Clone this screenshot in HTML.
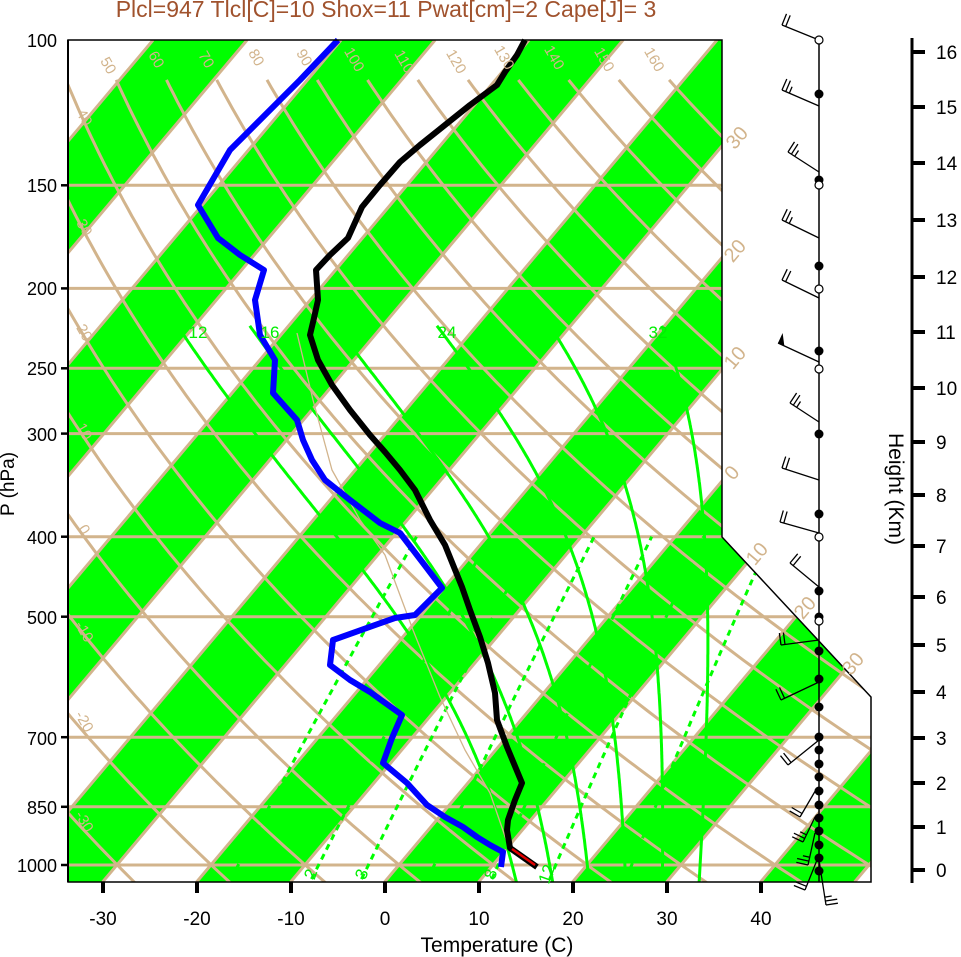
<!DOCTYPE html>
<html><head><meta charset="utf-8"><style>
html,body{margin:0;padding:0;background:#fff;}
svg{display:block;font-family:"Liberation Sans",sans-serif;}
</style></head><body>
<svg id="s" width="961" height="957" viewBox="0 0 961 957" xmlns="http://www.w3.org/2000/svg">
<defs><clipPath id="cp"><polygon points="68,40 722,40 722,537 871,697 871,882 68,882"/></clipPath></defs>
<g id="bg" clip-path="url(#cp)"></g>
<g id="fg"></g>
<text x="386" y="17" text-anchor="middle" font-size="23" fill="#a0522d">Plcl=947 Tlcl[C]=10 Shox=11 Pwat[cm]=2 Cape[J]= 3</text>
<g font-size="18" text-anchor="end" fill="#000">
<text x="57" y="47">100</text><text x="57" y="192">150</text><text x="57" y="295">200</text><text x="57" y="375">250</text><text x="57" y="441">300</text><text x="57" y="544">400</text><text x="57" y="624">500</text><text x="57" y="745">700</text><text x="57" y="814">850</text><text x="57" y="872">1000</text>
</g>
<text transform="translate(14,484) rotate(-90)" text-anchor="middle" font-size="19">P (hPa)</text>
<g font-size="19" text-anchor="middle">
<text x="103" y="925">-30</text><text x="197" y="925">-20</text><text x="291" y="925">-10</text><text x="385" y="925">0</text><text x="479" y="925">10</text><text x="573" y="925">20</text><text x="667" y="925">30</text><text x="761" y="925">40</text>
</g>
<text x="497" y="952" text-anchor="middle" font-size="21">Temperature (C)</text>
<g font-size="19">
<text x="936" y="59">16</text><text x="936" y="114">15</text><text x="936" y="170">14</text><text x="936" y="227">13</text><text x="936" y="284">12</text><text x="936" y="339">11</text><text x="936" y="395">10</text><text x="936" y="449">9</text><text x="936" y="502">8</text><text x="936" y="553">7</text><text x="936" y="604">6</text><text x="936" y="652">5</text><text x="936" y="699">4</text><text x="936" y="745">3</text><text x="936" y="790">2</text><text x="936" y="834">1</text><text x="936" y="877">0</text>
</g>
<text transform="translate(889,489) rotate(90)" text-anchor="middle" font-size="21">Height (Km)</text>
<g fill="#d2b48c" font-size="15" text-anchor="middle">
<text transform="translate(104,68) rotate(60)">50</text><text transform="translate(152,62) rotate(60)">60</text><text transform="translate(202,62) rotate(60)">70</text><text transform="translate(252,60) rotate(60)">80</text><text transform="translate(300,60) rotate(60)">90</text><text transform="translate(350,62) rotate(60)">100</text><text transform="translate(400,64) rotate(60)">110</text><text transform="translate(452,64) rotate(60)">120</text><text transform="translate(500,60) rotate(60)">130</text><text transform="translate(550,60) rotate(60)">140</text><text transform="translate(600,62) rotate(60)">150</text><text transform="translate(650,62) rotate(60)">160</text>
<text transform="translate(80,120) rotate(60)">40</text><text transform="translate(80,230) rotate(60)">30</text><text transform="translate(80,335) rotate(60)">20</text><text transform="translate(80,434) rotate(60)">10</text><text transform="translate(80,532) rotate(60)">0</text><text transform="translate(80,634) rotate(60)">-10</text><text transform="translate(80,724) rotate(60)">-20</text><text transform="translate(80,824) rotate(60)">-30</text>
</g>
<g fill="#d2b48c" font-size="20" text-anchor="middle">
<text transform="translate(742,142) rotate(-50)">30</text><text transform="translate(740,255) rotate(-50)">20</text><text transform="translate(740,362) rotate(-50)">10</text><text transform="translate(737,477) rotate(-50)">0</text><text transform="translate(762,558) rotate(-50)">10</text><text transform="translate(810,612) rotate(-50)">20</text><text transform="translate(858,668) rotate(-50)">30</text>
</g>
<g fill="#00ee00" font-size="17" text-anchor="middle">
<text x="198" y="338">12</text><text x="270" y="338">16</text><text x="447" y="338">24</text><text x="658" y="338">32</text>
<text transform="translate(316,876) rotate(-70)">2</text><text transform="translate(367,876) rotate(-70)">3</text><text transform="translate(496,876) rotate(-70)">8</text><text transform="translate(552,876) rotate(-70)">12</text>
</g>
</svg>
<script>
(function(){
var NS="http://www.w3.org/2000/svg";
var bg=document.getElementById("bg"),fg=document.getElementById("fg");
function Y(p){return 40+358.3*Math.log(p/100);}
function X(T,p){return 385+9.4*T+(882-Y(p))*0.841;}
function el(par,tag,a){var e=document.createElementNS(NS,tag);for(var k in a)e.setAttribute(k,a[k]);par.appendChild(e);return e;}
function pl(par,pts,st,w,extra){var d=pts.map(function(q,i){return (i?"L":"M")+q[0].toFixed(1)+","+q[1].toFixed(1);}).join("");var a={d:d,fill:"none",stroke:st,"stroke-width":w,"stroke-linejoin":"round"};if(extra)for(var k in extra)a[k]=extra[k];return el(par,"path",a);}
var TAN="#d2b48c",GR="#00ff00";
for(var T0=-160;T0<=60;T0+=20){
 el(bg,"polygon",{points:[X(T0,1050),882,X(T0+10,1050),882,X(T0+10,100),40,X(T0,100),40].join(" "),fill:GR});
}
[150,200,250,300,400,500,700,850,1000].forEach(function(p){pl(bg,[[60,Y(p)],[880,Y(p)]],TAN,3);});
for(var T=-130;T<=60;T+=10){pl(bg,[[X(T,1050),882],[X(T,100),40]],TAN,3);}
for(var th=-30;th<=160;th+=10){var pts=[];for(var lp=Math.log(1050);lp>=Math.log(110)-1e-9;lp-=0.02){var p=Math.exp(lp);var t=(th+273.15)*Math.pow(p/1000,0.2857)-273.15;pts.push([X(t,p),Y(p)]);}pl(bg,pts,TAN,3);}
function es(t){return 6.112*Math.exp(17.67*t/(t+243.5));}
function g(Tk,p){var e=es(Tk-273.15);var rs=0.622*e/(p-e);return (287*Tk+2.5e6*rs)/(1005+2.5e6*2.5e6*rs*0.622/(287*Tk*Tk));}
[12,16,20,24,28,32].forEach(function(tw){
 var up=[],Tk=tw+273.15,lp=Math.log(1000),h=0.005;
 while(Math.exp(lp)>222){var p=Math.exp(lp);up.push([X(Tk-273.15,p),Y(p)]);Tk-=g(Tk,p)*h;lp-=h;}
 var dn=[];Tk=tw+273.15;lp=Math.log(1000);
 while(Math.exp(lp)<1050){lp+=h;Tk+=g(Tk,Math.exp(lp))*h;var p2=Math.exp(lp);dn.push([X(Tk-273.15,p2),Y(p2)]);}
 pl(bg,dn.reverse().concat(up),GR,3);
});
function tmr(w,p){var e=w*p/(622+w);var l=Math.log(e/6.112);return 243.5*l/(17.67-l);}
[1,2,3,5,8,12,20].forEach(function(w){var pts=[];for(var p=1040;p>=400;p-=10)pts.push([X(tmr(w,p),p),Y(p)]);pl(bg,pts,GR,3,{"stroke-dasharray":"6,5"});});
pl(bg,[[297,333],[313,400],[332,470],[360,520],[385,555],[413,630],[440,697],[465,750],[490,793],[508,845]],TAN,1.3);
pl(fg,[[338,40],[300,80],[260,120],[230,150],[198,205],[218,238],[240,255],[264,270],[255,300],[260,335],[275,360],[273,393],[297,420],[303,440],[312,460],[325,480],[350,500],[380,523],[400,533],[423,563],[442,588],[415,615],[395,618],[333,640],[330,665],[350,680],[370,692],[402,715],[392,738],[383,763],[407,783],[427,805],[445,817],[463,827],[477,837],[490,845],[503,852],[501,867]],"#0000ff",6);
pl(fg,[[525,40],[517,55],[505,72],[497,85],[470,105],[445,125],[420,145],[400,162],[380,185],[362,207],[348,238],[330,255],[316,270],[318,300],[314,318],[310,335],[318,360],[332,385],[350,410],[370,435],[385,452],[400,470],[415,490],[430,520],[445,545],[462,587],[470,610],[480,637],[488,663],[495,693],[497,720],[507,747],[522,783],[515,800],[508,820],[507,830],[510,848],[537,867]],"#000",6);
pl(fg,[[512,849],[535,865]],"#e00000",2.5);
el(fg,"polygon",{points:"68,40 722,40 722,537 871,697 871,882 68,882",fill:"none",stroke:"#000","stroke-width":1.5});
pl(fg,[[68,40],[68,882]],"#000",2);
[150,200,250,300,400,500,700,850,1000].forEach(function(p){pl(fg,[[61,Y(p)],[68,Y(p)]],"#000",2.5);});
[103,197,291,385,479,573,667,761].forEach(function(x){pl(fg,[[x,882],[x,893]],"#000",4);});
pl(fg,[[912,38],[912,883]],"#000",3);
[52,107,163,220,277,332,388,442,495,546,597,645,692,738,783,827,870].forEach(function(y){pl(fg,[[912,y],[925,y]],"#000",4);});
pl(fg,[[819,40],[819,882]],"#000",1.5);
function barb(bx,by,ex,ey,n,flag){pl(fg,[[bx,by],[ex,ey]],"#000",1.3);var dx=ex-bx,dy=ey-by,L=Math.hypot(dx,dy);dx/=L;dy/=L;var px=-dy,py=dx;if(py>0){px=-px;py=-py;}
 if(flag){el(fg,"polygon",{points:[ex,ey,ex+px*11,ey+py*11,ex-dx*7,ey-dy*7].join(" "),fill:"#000"});return;}
 for(var i=0;i<n;i++){var sx=ex-dx*i*4,sy=ey-dy*i*4;var len=(i==n-1&&n>2)?7:12;pl(fg,[[sx,sy],[sx+px*len,sy+py*len]],"#000",1.3);}}
barb(819,40,782,25,2);barb(819,106,782,90,3);barb(819,172,788,152,3);barb(819,238,782,220,3);barb(819,298,782,280,2);
barb(819,362,778,343,0,true);barb(819,422,790,403,3);barb(819,480,782,468,2);barb(819,533,780,522,2);barb(819,587,790,563,2);
barb(819,640,781,645,2);barb(819,682,781,700,2);barb(819,740,788,765,2);barb(817,788,800,817,2);barb(815,817,803,842,3);barb(815,833,808,865,3);barb(817,860,805,890,2);barb(819,860,826,905,3);
[94,180,266,351,434,514,591,617,651,679,707,737,750,764,777,791,805,818,831,845,858,871].forEach(function(y){el(fg,"circle",{cx:819,cy:y,r:4.5,fill:"#000"});});
[40,185,289,369,537,621].forEach(function(y){el(fg,"circle",{cx:819,cy:y,r:4,fill:"#fff",stroke:"#000","stroke-width":1.2});});
})();
</script>
</body></html>
